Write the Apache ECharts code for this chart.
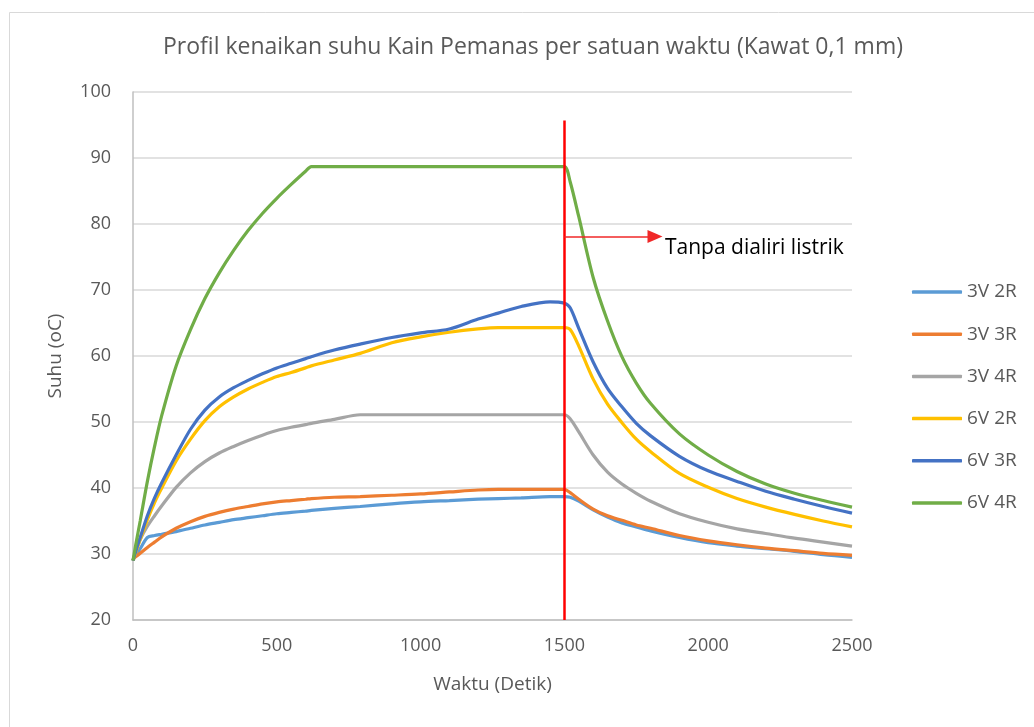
<!DOCTYPE html>
<html>
<head>
<meta charset="utf-8">
<script src="https://cdn.jsdelivr.net/npm/echarts@6/dist/echarts.min.js"></script>
<style>
html, body { margin: 0; padding: 0; background: #fff; }
#main { width: 1034px; height: 727px; }
</style>
</head>
<body>
<div id="main"></div>
<script>
// waktu (detik)
var waktu = [0, 10, 25, 50, 75, 100, 150, 200, 250, 300, 350, 400, 450, 500, 550, 600, 620, 700, 790, 900,
	1000, 1100, 1200, 1270, 1350, 1450, 1500, 1520, 1550, 1600, 1650, 1700, 1750, 1800, 1900, 2000,
	2100, 2200, 2300, 2400, 2500];

var v3r2 = [29.1, 29.8, 30.8, 32.5, 32.8, 33, 33.4, 33.9, 34.4, 34.8, 35.2, 35.5, 35.8, 36.1, 36.3, 36.5,
	36.6, 36.9, 37.2, 37.6, 37.9, 38.1, 38.3, 38.4, 38.5, 38.7, 38.7,
	38.6, 38.0, 36.7, 35.6, 34.7, 34.1, 33.5, 32.5, 31.7, 31.2, 30.8, 30.4, 29.9, 29.5];
var v3r3 = [29.2, 29.6, 30.1, 31, 31.8, 32.6, 33.9, 34.9, 35.7, 36.3, 36.8, 37.2, 37.6, 37.9, 38.1, 38.3,
	38.4, 38.6, 38.7, 38.9, 39.1, 39.4, 39.7, 39.8, 39.8, 39.8, 39.8,
	39.3, 38.3, 36.8, 35.8, 35.1, 34.4, 33.9, 32.8, 32.0, 31.4, 30.9, 30.5, 30.1, 29.8];
var v3r4 = [29, 30.4, 32.2, 34.2, 35.8, 37.3, 40.1, 42.3, 44, 45.3, 46.3, 47.2, 48, 48.7, 49.2, 49.6,
	49.8, 50.4, 51.1, 51.1, 51.1, 51.1, 51.1, 51.1, 51.1, 51.1, 51.1,
	50.5, 48.5, 45.0, 42.4, 40.6, 39.2, 38.0, 36.1, 34.8, 33.8, 33.1, 32.4, 31.8, 31.2];
var v6r2 = [29, 30.3, 32.2, 35.2, 37.8, 40, 44.1, 47.4, 50.2, 52.3, 53.8, 55, 56, 56.9, 57.5, 58.2,
	58.5, 59.4, 60.4, 62, 62.9, 63.6, 64.1, 64.3, 64.3, 64.3, 64.3,
	64.0, 61.5, 56.5, 52.7, 49.9, 47.4, 45.5, 42.2, 40.1, 38.4, 37.1, 36.0, 35.0, 34.1];
var v6r3 = [29, 30.5, 32.5, 35.8, 38.5, 40.8, 45, 48.9, 51.8, 53.8, 55.2, 56.3, 57.3, 58.2, 58.9, 59.6,
	59.9, 60.9, 61.8, 62.8, 63.5, 64.1, 65.6, 66.5, 67.5, 68.2, 68.0,
	67.3, 64.2, 59.1, 55.1, 52.3, 49.8, 47.9, 44.8, 42.6, 41.0, 39.5, 38.3, 37.2, 36.2];
var v6r4 = [29, 31.5, 35, 41, 46.3, 51, 58.5, 64, 68.7, 72.6, 76, 79, 81.6, 83.9, 86, 88,
	88.7, 88.7, 88.7, 88.7, 88.7, 88.7, 88.7, 88.7, 88.7, 88.7, 88.7,
	86.4, 81.1, 71.9, 65.3, 59.9, 55.9, 52.8, 48.2, 45, 42.5, 40.6, 39.2, 38.1, 37.1];

var nama = ['3V 2R', '3V 3R', '3V 4R', '6V 2R', '6V 3R', '6V 4R'];
var warna = ['#5B9BD5', '#ED7D31', '#A5A5A5', '#FFC000', '#4472C4', '#70AD47'];
var nilai = [v3r2, v3r3, v3r4, v6r2, v6r3, v6r4];

// garis merah saat listrik diputus
var waktuPutus = 1500;
var garisAtas = 95.7;
var panahY = 78.1;
var panahUjung = 1815;

var font = '"Open Sans", "Noto Sans", sans-serif';
var myChart = echarts.init(document.getElementById('main'));

var series = nama.map(function (n, k) {
	return {
		name: n,
		type: 'line',
		data: waktu.map(function (t, i) { return [t, nilai[k][i]]; }),
		symbol: 'none',
		smooth: 0.3,
		lineStyle: { width: 3.2, color: warna[k] },
		itemStyle: { color: warna[k] }
	};
});

series.push({
	name: 'putus',
	type: 'line',
	data: [],
	markLine: {
		silent: true,
		symbol: ['none', 'none'],
		animation: false,
		data: [
			[{ coord: [waktuPutus, garisAtas] }, { coord: [waktuPutus, 20] }]
		],
		lineStyle: { color: '#FF0000', width: 2.5, type: 'solid' },
		label: { show: false }
	}
});
series.push({
	name: 'panah',
	type: 'line',
	data: [],
	markLine: {
		silent: true,
		symbol: ['none', 'triangle'],
		symbolSize: [13, 15],
		animation: false,
		data: [
			[{ coord: [waktuPutus, panahY] }, { coord: [panahUjung, panahY] }]
		],
		lineStyle: { color: '#F02828', width: 1.5, type: 'solid' },
		label: {
			show: true,
			position: 'end',
			formatter: 'Tanpa dialiri listrik',
			color: '#000',
			fontFamily: font,
			fontSize: 21,
			lineHeight: 22,
			distance: 10,
			verticalAlign: 'top'
		}
	}
});

var option = {
	animation: false,
	backgroundColor: '#fff',
	title: {
		text: 'Profil kenaikan suhu Kain Pemanas per satuan waktu (Kawat 0,1 mm)',
		left: 528,
		textAlign: 'center',
		top: 31,
		textStyle: { fontFamily: font, fontSize: 23, fontWeight: 'normal', color: '#595959' }
	},
	graphic: [{
		type: 'rect',
		left: 7,
		top: 10,
		shape: { width: 1100, height: 800 },
		style: { fill: 'none', stroke: '#D9D9D9', lineWidth: 1 },
		silent: true
	}],
	legend: {
		orient: 'vertical',
		left: 912,
		top: 282,
		padding: 0,
		data: nama,
		icon: 'roundRect',
		itemWidth: 50,
		itemHeight: 3.5,
		itemGap: 22.2,
		textStyle: { fontFamily: font, fontSize: 19, color: '#595959', lineHeight: 20 }
	},
	grid: { left: 133, right: 182, top: 92, bottom: 107 },
	xAxis: {
		type: 'value',
		min: 0,
		max: 2500,
		interval: 500,
		name: 'Waktu (Detik)',
		nameLocation: 'middle',
		nameGap: 55,
		nameTextStyle: { fontFamily: font, fontSize: 19, color: '#595959' },
		axisLine: { show: true, lineStyle: { color: '#BFBFBF', width: 1.5 } },
		axisTick: { show: false },
		splitLine: { show: false },
		axisLabel: {
			fontFamily: font, fontSize: 18, color: '#595959', margin: 17,
			formatter: function (v) { return String(v); }
		}
	},
	yAxis: {
		type: 'value',
		min: 20,
		max: 100,
		interval: 10,
		name: 'Suhu (oC)',
		nameLocation: 'middle',
		nameGap: 68,
		nameTextStyle: { fontFamily: font, fontSize: 19, color: '#595959' },
		axisLine: { show: true, lineStyle: { color: '#BFBFBF', width: 1.5 } },
		axisTick: { show: false },
		splitLine: { lineStyle: { color: '#D9D9D9', width: 1.5 } },
		axisLabel: { fontFamily: font, fontSize: 18, color: '#595959', margin: 22 }
	},
	series: series
};

myChart.setOption(option);
</script>
</body>
</html>
